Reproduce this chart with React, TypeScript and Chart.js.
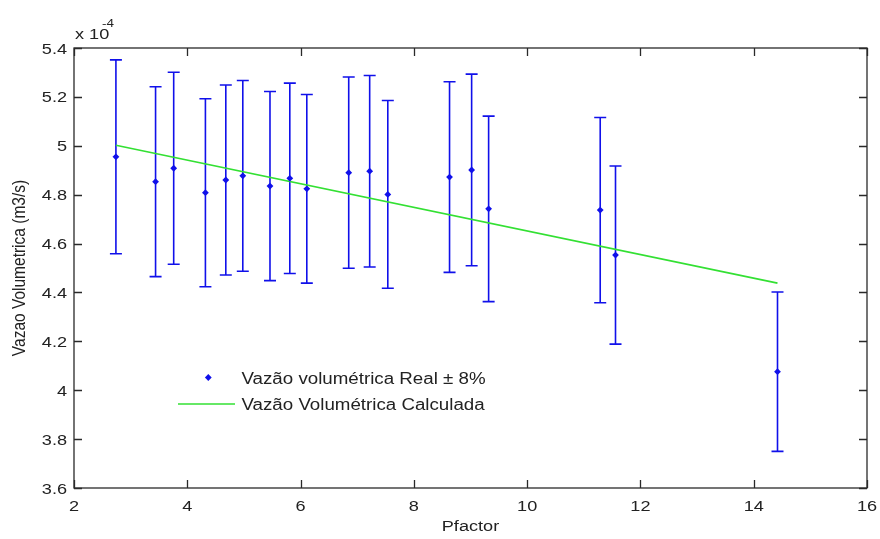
import React, { useEffect, useRef } from "react";
import { Chart, registerables } from "chart.js";

Chart.register(...registerables);

// Data (Vazão in units of 1e-4 m3/s)
const PFACTOR = [2.74, 3.44, 3.76, 4.32, 4.68, 4.98, 5.46, 5.81, 6.11, 6.85, 7.22, 7.54, 8.63, 9.02, 9.32, 11.29, 11.56, 14.42];
const VAZAO_REAL = [4.955, 4.853, 4.908, 4.808, 4.86, 4.877, 4.835, 4.867, 4.824, 4.89, 4.896, 4.801, 4.872, 4.901, 4.742, 4.737, 4.553, 4.076];
const ERROR_PCT = 8;
const CALC_X = [2.74, 14.42];
const CALC_Y = [5.002, 4.438];
const X_TICKS = [2, 4, 6, 8, 10, 12, 14, 16];
const X_TICK_LABELS = ["2", "4", "6", "8", "10", "12", "14", "16"];
const Y_TICKS = [3.6, 3.8, 4.0, 4.2, 4.4, 4.6, 4.8, 5.0, 5.2, 5.4];
const Y_TICK_LABELS = ["3.6", "3.8", "4", "4.2", "4.4", "4.6", "4.8", "5", "5.2", "5.4"];
const LABEL_REAL = "Vazão volumétrica Real ± 8%";
const LABEL_CALC = "Vazão Volumétrica Calculada";
const X_TITLE = "Pfactor";
const Y_TITLE = "Vazao Volumetrica (m3/s)";

const FONT = "'Liberation Sans', Arial, sans-serif";
const SX = 1.17;
const TEXT_COLOR = "#222222";
const BLUE = "#1010ea";
const GREEN = "#33e033";

function drawText(ctx: CanvasRenderingContext2D, text: string, x: number, y: number, align: CanvasTextAlign, size: number, rot = 0) {
  ctx.save();
  ctx.translate(x, y);
  ctx.scale(SX, 1);
  if (rot) ctx.rotate(rot);
  ctx.font = `${size}px ${FONT}`;
  ctx.fillStyle = TEXT_COLOR;
  ctx.textAlign = align;
  ctx.textBaseline = "alphabetic";
  ctx.fillText(text, 0, 0);
  ctx.restore();
}

const matlabPlugin = {
  id: "matlabAxes",
  beforeDatasetsDraw(chart: any) {
    const ctx = chart.ctx as CanvasRenderingContext2D;
    const xs = chart.scales.x;
    const ys = chart.scales.y;
    ctx.save();
    ctx.strokeStyle = BLUE;
    ctx.lineWidth = 1.6;
    PFACTOR.forEach((xv, i) => {
      const v = VAZAO_REAL[i];
      const err = (v * ERROR_PCT) / 100;
      const px = xs.getPixelForValue(xv);
      const top = ys.getPixelForValue(v + err);
      const bot = ys.getPixelForValue(v - err);
      ctx.beginPath();
      ctx.moveTo(px, top);
      ctx.lineTo(px, bot);
      ctx.moveTo(px - 6, top);
      ctx.lineTo(px + 6, top);
      ctx.moveTo(px - 6, bot);
      ctx.lineTo(px + 6, bot);
      ctx.stroke();
    });
    ctx.restore();
  },
  afterDraw(chart: any) {
    const ctx = chart.ctx as CanvasRenderingContext2D;
    const xs = chart.scales.x;
    const ys = chart.scales.y;
    const { left, right, top, bottom } = chart.chartArea;
    ctx.save();
    ctx.strokeStyle = "#2a2a2a";
    ctx.lineWidth = 1.3;
    ctx.strokeRect(left, top, right - left, bottom - top);
    const TL = 8;
    ctx.beginPath();
    X_TICKS.forEach((t) => {
      const px = Math.round(xs.getPixelForValue(t)) + 0.5;
      ctx.moveTo(px, bottom);
      ctx.lineTo(px, bottom - TL);
      ctx.moveTo(px, top);
      ctx.lineTo(px, top + TL);
    });
    Y_TICKS.forEach((t) => {
      const py = Math.round(ys.getPixelForValue(t)) + 0.5;
      ctx.moveTo(left, py);
      ctx.lineTo(left + TL, py);
      ctx.moveTo(right, py);
      ctx.lineTo(right - TL, py);
    });
    ctx.stroke();
    ctx.restore();

    X_TICKS.forEach((t, i) => {
      drawText(ctx, X_TICK_LABELS[i], xs.getPixelForValue(t), bottom + 22.5, "center", 15.5);
    });
    Y_TICKS.forEach((t, i) => {
      drawText(ctx, Y_TICK_LABELS[i], left - 7, ys.getPixelForValue(t) + 5.6, "right", 15.5);
    });
    drawText(ctx, "x 10", left + 1, 38.5, "left", 15.5);
    drawText(ctx, "-4", left + 28, 27, "left", 11.5);
    drawText(ctx, X_TITLE, (left + right) / 2, 531, "center", 15.5);
    drawText(ctx, Y_TITLE, 25, (top + bottom) / 2, "center", 15.5, -Math.PI / 2);

    ctx.save();
    ctx.fillStyle = BLUE;
    const mx = 208.3, my = 377.5, r = 3.4;
    ctx.beginPath();
    ctx.moveTo(mx, my - r);
    ctx.lineTo(mx + r, my);
    ctx.lineTo(mx, my + r);
    ctx.lineTo(mx - r, my);
    ctx.closePath();
    ctx.fill();
    ctx.strokeStyle = GREEN;
    ctx.lineWidth = 1.6;
    ctx.beginPath();
    ctx.moveTo(178, 404);
    ctx.lineTo(235, 404);
    ctx.stroke();
    ctx.restore();
    drawText(ctx, LABEL_REAL, 241.5, 384, "left", 16);
    drawText(ctx, LABEL_CALC, 241.5, 410, "left", 16);
  },
};

export default function App() {
  const ref = useRef<HTMLCanvasElement | null>(null);
  useEffect(() => {
    document.body.style.margin = "0";
    if (!ref.current) return;
    const chart = new Chart(ref.current, {
      type: "scatter",
      data: {
        datasets: [
          {
            label: LABEL_REAL,
            data: PFACTOR.map((x, i) => ({ x, y: VAZAO_REAL[i] })),
            pointStyle: "rectRot",
            pointRadius: 3.4,
            backgroundColor: BLUE,
            borderColor: BLUE,
            borderWidth: 0,
            showLine: false,
          },
          {
            label: LABEL_CALC,
            data: CALC_X.map((x, i) => ({ x, y: CALC_Y[i] })),
            showLine: true,
            borderColor: GREEN,
            borderWidth: 1.6,
            pointRadius: 0,
            fill: false,
          },
        ],
      },
      options: {
        animation: false,
        responsive: false,
        devicePixelRatio: 1,
        layout: { padding: { left: 74, right: 13, top: 48, bottom: 51 } },
        scales: {
          x: { type: "linear", min: 2, max: 16, display: false },
          y: { type: "linear", min: 3.6, max: 5.4, display: false },
        },
        plugins: { legend: { display: false }, tooltip: { enabled: false } },
      },
      plugins: [matlabPlugin],
    });
    return () => chart.destroy();
  }, []);
  return (
    <div style={{ width: 880, height: 539, background: "#fff" }}>
      <canvas ref={ref} width={880} height={539} />
    </div>
  );
}
